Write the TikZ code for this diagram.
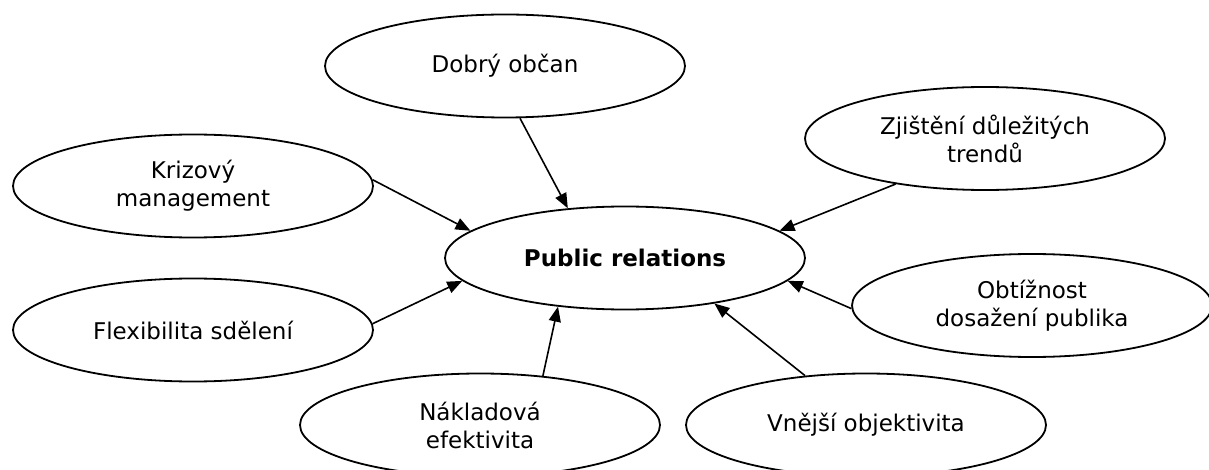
\documentclass[tikz,border=0pt]{standalone}
\usepackage{fontspec}
\setmainfont{DejaVu Sans}
\usetikzlibrary{shapes.geometric,arrows.meta}
\begin{document}
\begin{tikzpicture}[x=1pt,y=-1pt,
  bub/.style={ellipse,draw,line width=1.8pt,minimum width=360pt,minimum height=103pt,
    inner sep=0pt,align=center,font=\fontsize{23}{28}\selectfont},
  arr/.style={line width=1.6pt,-{Triangle[length=15pt,width=12pt]}}]
\useasboundingbox (0,0) rectangle (1209,470);
\node[bub,font=\fontsize{23}{28}\selectfont\bfseries] (pr) at (625,258) {Public relations};
\node[bub] (dob) at (505,66) {Dobrý občan};
\node[bub] (zji) at (985,138.5) {Zjištění důležitých\\trendů};
\node[bub] (kri) at (193,186) {Krizový\\management};
\node[bub] (flx) at (193,330) {Flexibilita sdělení};
\node[bub] (obt) at (1032,305.5) {Obtížnost\\dosažení publika};
\node[bub] (nak) at (480,425) {Nákladová\\efektivita};
\node[bub] (vne) at (866,425) {Vnější objektivita};
\draw[arr] (dob.-74) -- (pr.139);
\draw[arr] (kri.2) -- (pr.170);
\draw[arr] (flx.2) -- (pr.188);
\draw[arr] (nak.38) -- (pr.216);
\draw[arr] (vne.141) -- (pr.-27);
\draw[arr] (obt.181) -- (pr.-8.5);
\draw[arr] (zji.207) -- (pr.10.6);
\end{tikzpicture}
\end{document}
